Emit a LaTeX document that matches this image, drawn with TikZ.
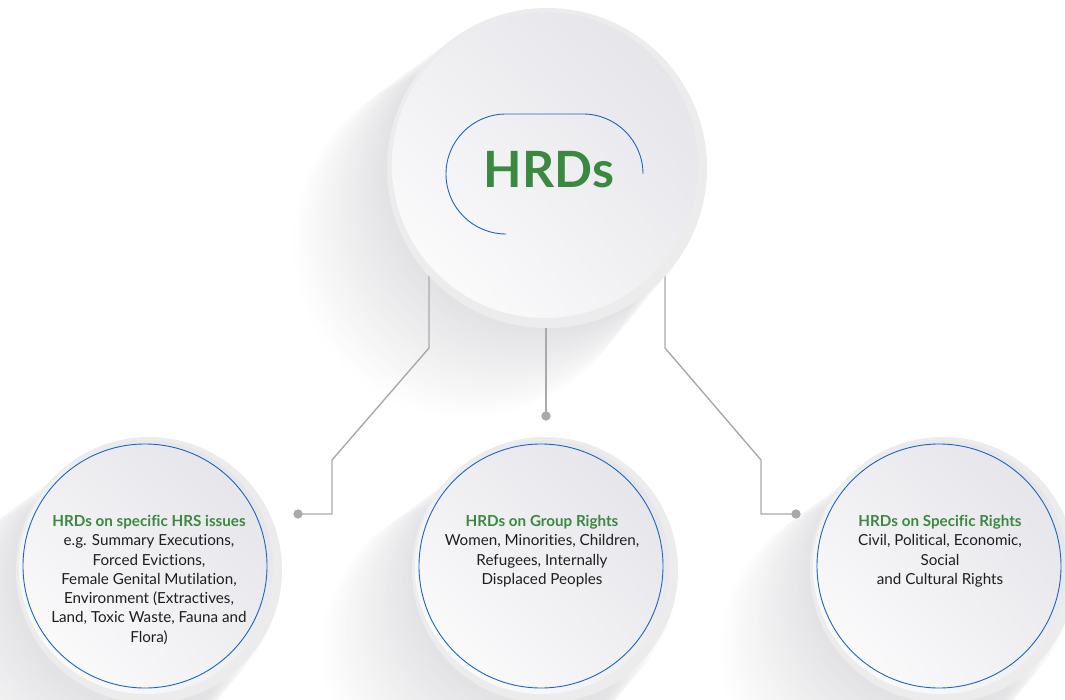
\documentclass[tikz,border=0pt]{standalone}
\usepackage{fontspec}
\setmainfont{Lato}[Ligatures={NoCommon}]
\usetikzlibrary{calc,shadings}
\definecolor{hgreen}{HTML}{3B8940}
\definecolor{hblue}{HTML}{1A67BC}
\definecolor{hline}{HTML}{A9A9AD}
\definecolor{hrim}{HTML}{ECECED}
\definecolor{hface}{HTML}{E2E1E7}
\definecolor{hmid}{HTML}{EFEFF2}
\definecolor{htext}{HTML}{1E1E1E}
\definecolor{hshadow}{HTML}{4A4A5A}
\newcommand\hrdttl[1]{\textcolor{hgreen}{\bfseries #1}}
\begin{document}
\begin{tikzpicture}[x=1pt,y=-1pt,
  conn/.style={draw=hline, line width=1.4pt, line join=round},
  dot/.style={circle, fill=hline, inner sep=0pt, minimum size=9pt},
  rim/.style={circle, fill=hrim, inner sep=0pt, minimum size=#1},
  face/.style={circle, inner sep=0pt, minimum size=#1, shade,
    upper right=hface, lower left=white, upper left=hmid, lower right=hmid},
  ring/.style={circle, draw=hblue, line width=0.9pt, inner sep=0pt, minimum size=#1},
  body/.style={align=center, inner sep=0pt, text=htext,
    font=\fontsize{15.2}{19.3}\selectfont},
]
\useasboundingbox (0,0) rectangle (1065,700);
\clip (0,0) rectangle (1065,700);

% long soft shadows falling to the lower left
\foreach \cx/\cy/\r in {547/168/160, 150/573/133, 548/573/133, 946/573/133} {
  \foreach \k in {1,...,40} {
    \fill[hshadow, opacity=0.0055] (\cx-\k*2, \cy+\k*1.9) circle[radius=\r pt+\k*0.35pt];
  }
}

% connector start points hidden under the central disc
\coordinate (lstart) at (429,250);
\coordinate (mstart) at (546,300);
\coordinate (rstart) at (665,250);

% end dots
\node[dot] (ldot) at (298,514) {};
\node[dot] (mdot) at (546,416) {};
\node[dot] (rdot) at (796,514) {};

\draw[conn] (lstart) -- (429,348) -- (332,460) -- (332,514) -- (ldot.center);
\draw[conn] (mstart) -- (mdot.center);
\draw[conn] (rstart) -- (665,348) -- (761,460) -- (761,514) -- (rdot.center);
\node[dot] at (ldot) {};
\node[dot] at (mdot) {};
\node[dot] at (rdot) {};

% central disc
\node[rim=320pt] (toprim) at (547,168) {};
\node[face=306pt] (topface) at (545,165) {};
\draw[hblue, line width=0.9pt]
  (506,234) arc[start angle=270, end angle=90, radius=60pt]
  -- (583,114) arc[start angle=90, end angle=0, radius=60pt];
\node[text=hgreen, font=\fontsize{50}{50}\bfseries\selectfont] (hrds) at (549,170) {HRDs};

% three lower discs
\foreach \nm/\cx in {left/145, mid/541, right/939} {
  \node[rim=266pt] (\nm rim) at (\cx+4,570) {};
  \node[face=254pt] (\nm face) at (\cx+1,567) {};
  \node[ring=244pt] (\nm ring) at (\cx,566) {};
}

\node[body, anchor=north] (ltext) at (149,515)
  {\hrdttl{HRDs on specific HRS issues}\\
   e.g. Summary Executions,\\
   Forced Evictions,\\
   Female Genital Mutilation,\\
   Environment (Extractives,\\
   Land, Toxic Waste, Fauna and\\
   Flora)};
\node[body, anchor=north] (mtext) at (542,515)
  {\hrdttl{HRDs on Group Rights}\\
   Women, Minorities, Children,\\
   Refugees, Internally\\
   Displaced Peoples};
\node[body, anchor=north] (rtext) at (940,515)
  {\hrdttl{HRDs on Specific Rights}\\
   Civil, Political, Economic,\\
   Social\\
   and Cultural Rights};
\end{tikzpicture}
\end{document}
